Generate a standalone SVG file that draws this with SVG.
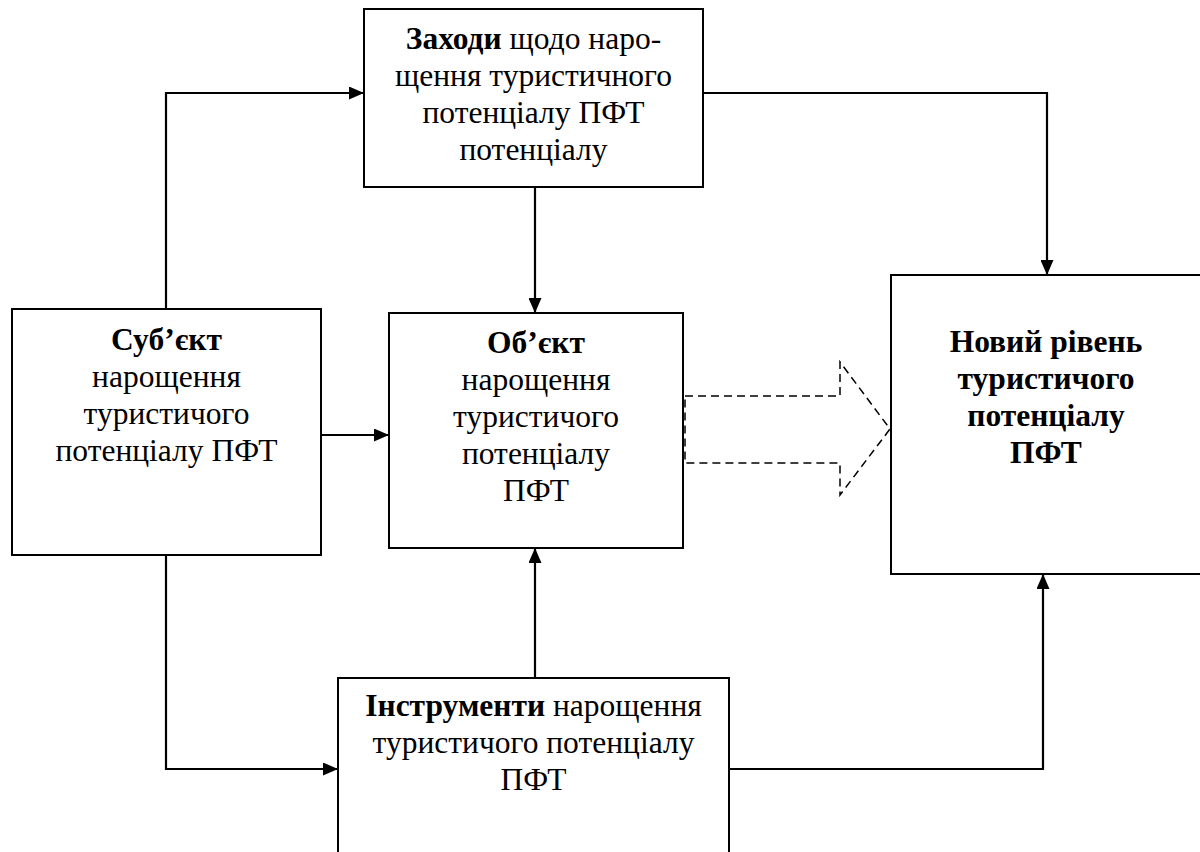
<svg xmlns="http://www.w3.org/2000/svg" width="1200" height="852" viewBox="0 0 1200 852">
<defs>
<marker id="ah" viewBox="0 0 15 13" refX="15" refY="6.5" markerWidth="15" markerHeight="13" markerUnits="userSpaceOnUse" orient="auto">
<path d="M0,0 L15,6.5 L0,13 Z" fill="#000"/>
</marker>
</defs>
<style>
.box{fill:#fff;stroke:#000;stroke-width:2}
.t{font-family:"Liberation Serif","Times New Roman",serif;font-size:31.5px;fill:#000;text-anchor:middle}
.b{font-weight:bold}
.c{fill:none;stroke:#000;stroke-width:2.2}
.d{fill:none;stroke:#000;stroke-width:1.5;stroke-dasharray:8,5}
</style>
<rect width="1200" height="852" fill="#fff"/>
<g id="connectors">
<polyline class="c" points="166,309 166,93 364,93" marker-end="url(#ah)"/>
<polyline class="c" points="535,187 535,313" marker-end="url(#ah)"/>
<polyline class="c" points="703,93 1047,93 1047,275" marker-end="url(#ah)"/>
<polyline class="c" points="321,435 389,435" marker-end="url(#ah)"/>
<polyline class="c" points="166,555 166,769 338,769" marker-end="url(#ah)"/>
<polyline class="c" points="535,678 535,548" marker-end="url(#ah)"/>
<polyline class="c" points="729,769 1043,769 1043,574" marker-end="url(#ah)"/>
<polygon class="d" points="685,396 840,396 840,362 890,429 840,495 840,463 685,463"/>
</g>
<g id="zakhody">
<rect class="box" x="364" y="9" width="339" height="178"/>
<text class="t" x="533.5" y="49"><tspan class="b">Заходи</tspan> щодо наро-</text>
<text class="t" x="533.5" y="86">щення туристичного</text>
<text class="t" x="533.5" y="123">потенціалу ПФТ</text>
<text class="t" x="533.5" y="160">потенціалу</text>
</g>
<g id="subiekt">
<rect class="box" x="12" y="309" width="309" height="246"/>
<text class="t b" x="166.5" y="350">Суб’єкт</text>
<text class="t" x="166.5" y="387">нарощення</text>
<text class="t" x="166.5" y="424">туристичого</text>
<text class="t" x="166.5" y="461">потенціалу ПФТ</text>
</g>
<g id="obiekt">
<rect class="box" x="389" y="313" width="294" height="235"/>
<text class="t b" x="536" y="353">Об’єкт</text>
<text class="t" x="536" y="390">нарощення</text>
<text class="t" x="536" y="427">туристичого</text>
<text class="t" x="536" y="464">потенціалу</text>
<text class="t" x="536" y="501">ПФТ</text>
</g>
<g id="novyi">
<rect class="box" x="891" y="275" width="312" height="299"/>
<text class="t b" x="1046" y="352">Новий рівень</text>
<text class="t b" x="1046" y="389">туристичого</text>
<text class="t b" x="1046" y="426">потенціалу</text>
<text class="t b" x="1046" y="463">ПФТ</text>
</g>
<g id="instrumenty">
<rect class="box" x="338" y="678" width="391" height="190"/>
<text class="t" x="533.5" y="716"><tspan class="b">Інструменти</tspan> нарощення</text>
<text class="t" x="533.5" y="753">туристичого потенціалу</text>
<text class="t" x="533.5" y="790">ПФТ</text>
</g>
</svg>
